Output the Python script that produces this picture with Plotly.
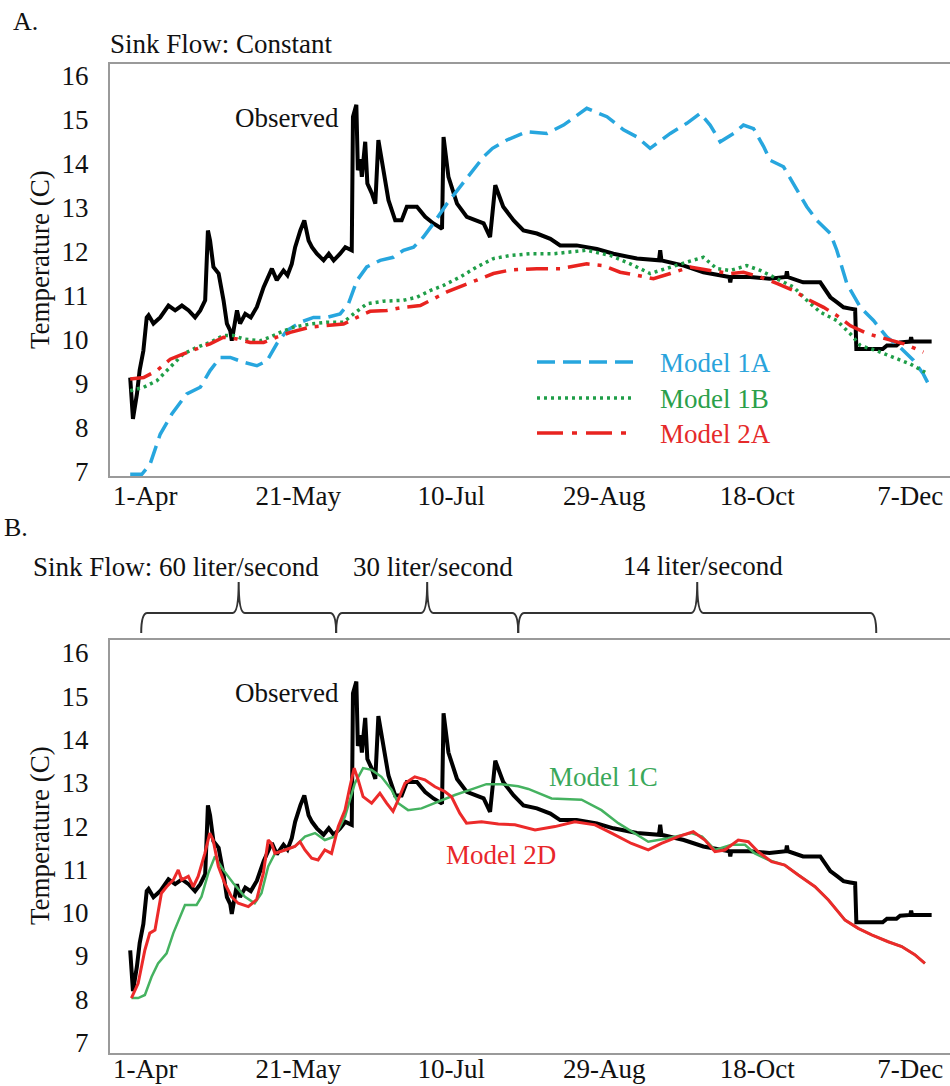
import plotly.graph_objects as go

# ---------------- data ----------------
# day offset from 1-Apr, temperature (C)
obs_day = [-4.9, -4.0, -2.7, -1.8, -0.6, 0.5, 1.1, 2.7, 4.9, 7.6, 9.8, 12.0, 14.2, 16.3, 18.0,
           19.6, 20.5, 21.2, 22.3, 24.0, 25.6, 26.7, 27.8, 28.3, 30.0, 31.0, 32.7, 34.5, 36.5,
           38.7, 41.4, 43.0, 45.2, 46.5, 47.9, 49.0, 50.7, 52.0, 53.4, 54.5, 56.1, 58.3, 60.0,
           61.6, 63.7, 65.4, 67.5, 67.9, 69.0, 69.5, 70.3, 70.8, 71.9, 72.6, 74.1, 75.2, 76.2,
           77.9, 79.5, 81.7, 83.8, 85.5, 88.8, 91.5, 94.2, 97.0, 97.5, 99.1, 101.9, 105.1,
           108.4, 110.6, 112.7, 114.4, 117.0, 120.4, 123.6, 128.0, 132.4, 135.6, 141.0, 147.6,
           153.0, 160.7, 167.9, 168.3, 168.7, 176.0, 182.4, 190.9, 191.2, 191.5, 197.7, 204.0,
           209.4, 209.7, 210.0, 215.0, 220.6, 221.7, 223.9, 226.0, 228.2, 230.4, 232.0, 232.4,
           236.9, 241.0, 242.4, 245.5, 246.7, 250.0, 250.3, 250.6, 257.0]
obs_temp = [9.13, 8.19, 8.76, 9.30, 9.74, 10.50, 10.55, 10.36, 10.50, 10.77, 10.66, 10.77, 10.66,
            10.50, 10.66, 10.89, 12.48, 12.25, 11.65, 11.50, 10.89, 10.36, 10.20, 9.97, 10.66,
            10.36, 10.58, 10.50, 10.74, 11.19, 11.61, 11.35, 11.57, 11.46, 11.72, 12.10, 12.48,
            12.71, 12.25, 12.10, 11.95, 11.80, 11.95, 11.80, 11.95, 12.10, 12.03, 15.07, 15.34,
            13.85, 14.10, 13.70, 14.50, 13.55, 13.32, 13.09, 14.54, 13.85, 13.17, 12.71, 12.71,
            13.02, 13.02, 12.79, 12.64, 12.52, 14.61, 13.70, 13.09, 12.79, 12.71, 12.64, 12.33,
            13.51, 13.02, 12.71, 12.48, 12.41, 12.29, 12.14, 12.14, 12.06, 11.95, 11.84, 11.80,
            12.03, 11.80, 11.68, 11.53, 11.42, 11.30, 11.42, 11.42, 11.38, 11.42, 11.55, 11.42,
            11.30, 11.30, 11.19, 10.96, 10.85, 10.73, 10.70, 10.68, 9.78, 9.78, 9.78, 9.86, 9.86,
            9.93, 9.95, 10.05, 9.95, 9.95]

m1a_day = [-4.9, -1.1, 1.6, 4.9, 8.7, 13.6, 18.0, 21.2, 24.5, 27.8, 32.1, 36.5, 39.8, 43.0, 46.3,
           50.7, 55.0, 59.4, 63.7, 66.4, 69.2, 72.4, 76.8, 81.1, 84.4, 87.7, 90.9, 94.2, 98.6,
           102.9, 107.3, 110.5, 113.5, 118.2, 124.7, 131.3, 136.7, 144.3, 150.9, 156.3, 160.7,
           165.0, 171.6, 177.0, 181.4, 184.6, 187.9, 192.3, 195.5, 198.8, 202.1, 204.2, 208.6,
           211.9, 216.2, 219.5, 223.9, 226.0, 229.3, 233.7, 238.0, 242.4, 246.7, 251.1, 254.3,
           256.5]
m1a_temp = [6.93, 6.93, 7.16, 7.84, 8.30, 8.76, 8.91, 9.29, 9.59, 9.59, 9.48, 9.40, 9.51, 9.90,
            10.20, 10.39, 10.50, 10.50, 10.58, 10.81, 11.34, 11.65, 11.80, 11.87, 12.03, 12.10,
            12.33, 12.64, 13.09, 13.47, 13.85, 14.15, 14.35, 14.54, 14.73, 14.69, 14.88, 15.26,
            15.07, 14.77, 14.61, 14.35, 14.69, 14.92, 15.15, 14.88, 14.50, 14.69, 14.88, 14.80,
            14.39, 14.08, 13.93, 13.55, 13.02, 12.71, 12.41, 12.03, 11.27, 10.73, 10.43, 10.05,
            9.82, 9.52, 9.21, 8.91]

m1b_day = [-4.9, -0.5, 3.8, 8.2, 12.5, 16.9, 21.2, 25.6, 28.8, 32.1, 37.6, 40.8, 44.1, 48.5, 53.9,
           59.4, 64.8, 68.1, 72.4, 77.9, 84.4, 88.8, 93.1, 97.5, 102.9, 108.4, 113.8, 119.3, 125.8,
           133.4, 144.3, 152.0, 158.5, 165.0, 171.6, 177.0, 182.4, 186.8, 191.2, 196.6, 201.0,
           206.4, 211.9, 216.2, 220.6, 226.0, 230.4, 233.7, 239.1, 244.5, 250.0, 254.9]
m1b_temp = [8.83, 8.91, 9.06, 9.36, 9.67, 9.82, 9.93, 10.09, 10.09, 10.01, 9.97, 10.05, 10.16,
            10.28, 10.35, 10.39, 10.39, 10.58, 10.81, 10.87, 10.89, 10.96, 11.11, 11.23, 11.42,
            11.65, 11.84, 11.91, 11.95, 11.95, 12.03, 11.91, 11.72, 11.50, 11.65, 11.76, 11.87,
            11.61, 11.57, 11.68, 11.57, 11.38, 11.19, 10.89, 10.62, 10.43, 10.13, 9.86, 9.74,
            9.59, 9.44, 9.25]

m2a_day = [-4.9, -0.5, 3.8, 8.2, 12.5, 16.9, 21.2, 25.6, 30.0, 34.3, 38.7, 43.0, 47.4, 53.9, 59.4,
           64.8, 69.2, 73.5, 79.0, 84.4, 89.9, 94.2, 98.6, 104.0, 109.5, 113.8, 119.3, 128.0,
           135.6, 144.3, 149.8, 155.2, 160.7, 166.1, 171.6, 178.1, 184.6, 191.2, 195.5, 201.0,
           206.6, 212.0, 216.3, 221.7, 226.1, 230.5, 236.0, 242.5, 248.0, 254.3]
m2a_temp = [9.10, 9.13, 9.29, 9.55, 9.67, 9.78, 9.90, 10.05, 10.01, 9.93, 9.93, 10.05, 10.16,
            10.28, 10.31, 10.35, 10.50, 10.64, 10.66, 10.73, 10.77, 10.92, 11.08, 11.23, 11.38,
            11.50, 11.58, 11.61, 11.61, 11.72, 11.68, 11.53, 11.46, 11.38, 11.50, 11.65, 11.57,
            11.50, 11.53, 11.42, 11.27, 11.11, 10.92, 10.73, 10.54, 10.31, 10.13, 10.01, 9.90,
            9.71]

m1c_day = [-4.5, -2.3, -0.1, 2.1, 4.2, 7.0, 9.2, 11.3, 13.0, 16.8, 18.4, 20.6, 22.8, 25.5, 28.8,
           32.6, 35.8, 38.0, 40.2, 42.4, 45.7, 48.9, 52.2, 55.5, 58.7, 62.0, 65.3, 68.5, 71.2,
           74.0, 77.2, 80.5, 82.7, 85.9, 90.3, 95.8, 101.2, 106.6, 111.5, 116.4, 121.9, 125.2,
           132.8, 142.6, 149.1, 154.6, 160.0, 164.4, 170.9, 178.5, 182.0, 186.2, 191.6, 196.0,
           199.2, 203.6, 209.0, 213.4, 218.9, 223.2, 228.7, 233.0, 237.4, 242.8, 247.2, 251.5,
           254.8]
m1c_temp = [8.03, 8.03, 8.10, 8.52, 8.83, 9.06, 9.53, 9.91, 10.18, 10.18, 10.37, 10.91, 11.30,
            10.99, 10.68, 10.37, 10.22, 10.45, 11.07, 11.37, 11.45, 11.53, 11.76, 11.84, 11.68,
            11.76, 12.22, 12.99, 13.34, 13.30, 13.14, 12.84, 12.53, 12.37, 12.41, 12.57, 12.72,
            12.85, 12.97, 12.97, 12.92, 12.86, 12.64, 12.61, 12.37, 12.07, 11.84, 11.64, 11.72,
            11.84, 11.76, 11.45, 11.57, 11.57, 11.37, 11.22, 11.10, 10.87, 10.60, 10.30, 9.83,
            9.64, 9.49, 9.33, 9.22, 9.03, 8.83]

m2d_day = [-4.5, -2.3, -0.1, 1.5, 3.2, 5.3, 7.0, 9.2, 10.8, 11.9, 14.1, 15.7, 17.3, 19.5, 21.1,
           22.2, 23.9, 26.0, 28.2, 30.4, 33.7, 36.4, 38.6, 40.2, 41.3, 42.4, 45.7, 48.9, 50.6,
           52.2, 54.4, 56.5, 58.7, 60.9, 63.1, 65.3, 66.9, 68.3, 69.6, 71.2, 74.0, 76.7, 78.9,
           81.0, 82.7, 84.9, 88.1, 91.4, 94.7, 97.9, 100.1, 102.8, 105.0, 109.9, 115.4, 120.8,
           127.4, 133.9, 140.4, 147.0, 152.4, 158.9, 164.4, 168.7, 174.2, 179.1, 182.9, 186.2,
           189.4, 193.8, 197.1, 200.3, 204.7, 209.0, 213.4, 218.9, 223.2, 228.7, 233.0, 237.4,
           242.8, 247.2, 251.5, 254.8]
m2d_temp = [8.03, 8.37, 9.14, 9.53, 9.60, 10.45, 10.60, 10.76, 10.99, 10.76, 10.84, 10.60, 10.84,
            11.37, 11.84, 11.68, 11.07, 10.68, 10.37, 10.22, 10.14, 10.30, 10.91, 11.68, 11.60,
            11.37, 11.45, 11.53, 11.64, 11.45, 11.26, 11.22, 11.45, 11.37, 11.99, 12.37, 12.91,
            13.34, 13.07, 12.68, 12.53, 12.76, 12.53, 12.34, 12.61, 12.99, 13.14, 13.07, 12.91,
            12.80, 12.68, 12.30, 12.07, 12.10, 12.05, 12.03, 11.91, 11.99, 12.10, 12.03, 11.84,
            11.60, 11.45, 11.60, 11.76, 11.87, 11.68, 11.41, 11.45, 11.68, 11.64, 11.41, 11.18,
            11.10, 10.87, 10.60, 10.30, 9.83, 9.64, 9.49, 9.33, 9.22, 9.03, 8.83]

tick_days = [0, 50, 100, 150, 200, 250]
tick_text = ["1-Apr", "21-May", "10-Jul", "29-Aug", "18-Oct", "7-Dec"]
temp_ticks = [7, 8, 9, 10, 11, 12, 13, 14, 15, 16]

# sink-flow periods (day offsets)
flow_breaks = [-1.3, 62.4, 121.9, 238.9]

# ---------------- styling ----------------
W, H = 950, 1086
FONT = "Liberation Serif"
FS = 27
TXT = "#111111"
AXIS_GREY = "#9a9a9a"
BLUE = "#27a6de"
GREEN_DOT = "#1f9e48"
RED = "#e8231f"
GREEN_B = "#45b260"
RED_B = "#ec2a2a"


def px(x):
    return x / W


def py(y):
    return 1 - y / H


def tfont(size=FS, color=TXT):
    return dict(family=FONT, size=size, color=color)


fig = go.Figure()

# Panel A
fig.add_trace(go.Scatter(x=obs_day, y=obs_temp, mode="lines",
                         line=dict(color="black", width=4), xaxis="x", yaxis="y"))
fig.add_trace(go.Scatter(x=m1a_day, y=m1a_temp, mode="lines",
                         line=dict(color=BLUE, width=3.5, dash="18px,8px"),
                         xaxis="x", yaxis="y"))
fig.add_trace(go.Scatter(x=m1b_day, y=m1b_temp, mode="lines",
                         line=dict(color=GREEN_DOT, width=3.5, dash="3px,4px"),
                         xaxis="x", yaxis="y"))
fig.add_trace(go.Scatter(x=m2a_day, y=m2a_temp, mode="lines",
                         line=dict(color=RED, width=3.5, dash="22px,8px,4px,8px"),
                         xaxis="x", yaxis="y"))

# Panel B
fig.add_trace(go.Scatter(x=obs_day, y=obs_temp, mode="lines",
                         line=dict(color="black", width=4), xaxis="x2", yaxis="y2"))
fig.add_trace(go.Scatter(x=m1c_day, y=m1c_temp, mode="lines",
                         line=dict(color=GREEN_B, width=2.5), xaxis="x2", yaxis="y2"))
fig.add_trace(go.Scatter(x=m2d_day, y=m2d_temp, mode="lines",
                         line=dict(color=RED_B, width=3), xaxis="x2", yaxis="y2"))

xdom = [px(110), 1.0]
common_x = dict(range=[-11.5, 263], tickvals=tick_days, ticktext=tick_text,
                showline=True, linecolor=AXIS_GREY, linewidth=2, mirror=True,
                showgrid=False, zeroline=False, ticks="", ticklen=0,
                fixedrange=True, tickfont=tfont())
common_y = dict(tickvals=temp_ticks, showline=True, linecolor=AXIS_GREY, linewidth=2,
                showgrid=False, zeroline=False, ticks="", ticklen=0, ticklabelstandoff=14,
                fixedrange=True, tickfont=tfont())

fig.update_layout(
    template="none",
    width=W, height=H,
    margin=dict(l=0, r=0, t=0, b=0),
    plot_bgcolor="white", paper_bgcolor="white",
    showlegend=False,
    font=tfont(),
    xaxis=dict(domain=xdom, anchor="y", ticklabelstandoff=-5, **common_x),
    yaxis=dict(domain=[py(476), py(64)], anchor="x", range=[6.89, 16.27], **common_y),
    xaxis2=dict(domain=xdom, anchor="y2", ticklabelstandoff=-9, **common_x),
    yaxis2=dict(domain=[py(1053), py(640)], anchor="x2", range=[6.76, 16.30], **common_y),
)

annotations = []


def note(text, x, y, xanchor="left", color=TXT, size=FS, angle=0, xref="paper", yref="paper"):
    annotations.append(dict(text=text, x=x, y=y, xref=xref, yref=yref,
                            xanchor=xanchor, yanchor="middle", showarrow=False,
                            textangle=angle, font=tfont(size, color)))


# panel headers
note("A.", px(11), py(22), size=26)
note("Sink Flow: Constant", px(108), py(44))
note("B.", px(2), py(527), size=26)
note("Sink Flow: 60 liter/second", px(31), py(567))
note("30 liter/second", px(351), py(567))
note("14 liter/second", px(621), py(566))

# y-axis titles
note("Temperature (C)", px(40), py(260), xanchor="center", angle=-90)
note("Temperature (C)", px(40), py(836), xanchor="center", angle=-90)

# series labels
note("Observed", 46.4, 15.04, xanchor="center", xref="x", yref="y")
note("Observed", 46.4, 15.08, xanchor="center", xref="x2", yref="y2")
note("Model 1C", 149.8, 13.14, xanchor="center", color="#3aa85a", xref="x2", yref="y2")
note("Model 2D", 116.3, 11.33, xanchor="center", color="#e8262a", xref="x2", yref="y2")

# panel A key
key = [("Model 1A", BLUE, "18px,8px", 362, "#2aa3db"),
       ("Model 1B", GREEN_DOT, "3px,4px", 398, "#2b9f4a"),
       ("Model 2A", RED, "26px,9px,5px,9px", 433, "#e52a2a")]
shapes = []
for label, col, dash, yk, tcol in key:
    shapes.append(dict(type="line", xref="paper", yref="paper",
                       x0=px(537), x1=px(635), y0=py(yk), y1=py(yk),
                       line=dict(color=col, width=3.5, dash=dash)))
    note(label, px(658), py(yk + 1), color=tcol)

# braces over panel B marking the sink-flow periods
y_h, y_t, y_b = py(613), py(582), py(633)
r = 2.0
for a, b in zip(flow_breaks[:-1], flow_breaks[1:]):
    m = (a + b) / 2
    path = (f"M {a},{y_b} Q {a},{y_h} {a + r},{y_h} L {m - r},{y_h} "
            f"Q {m},{y_h} {m},{y_t} Q {m},{y_h} {m + r},{y_h} "
            f"L {b - r},{y_h} Q {b},{y_h} {b},{y_b}")
    shapes.append(dict(type="path", xref="x2", yref="paper", path=path,
                       line=dict(color="#333333", width=2)))

fig.update_layout(annotations=annotations, shapes=shapes)

fig.write_html("out.html")
